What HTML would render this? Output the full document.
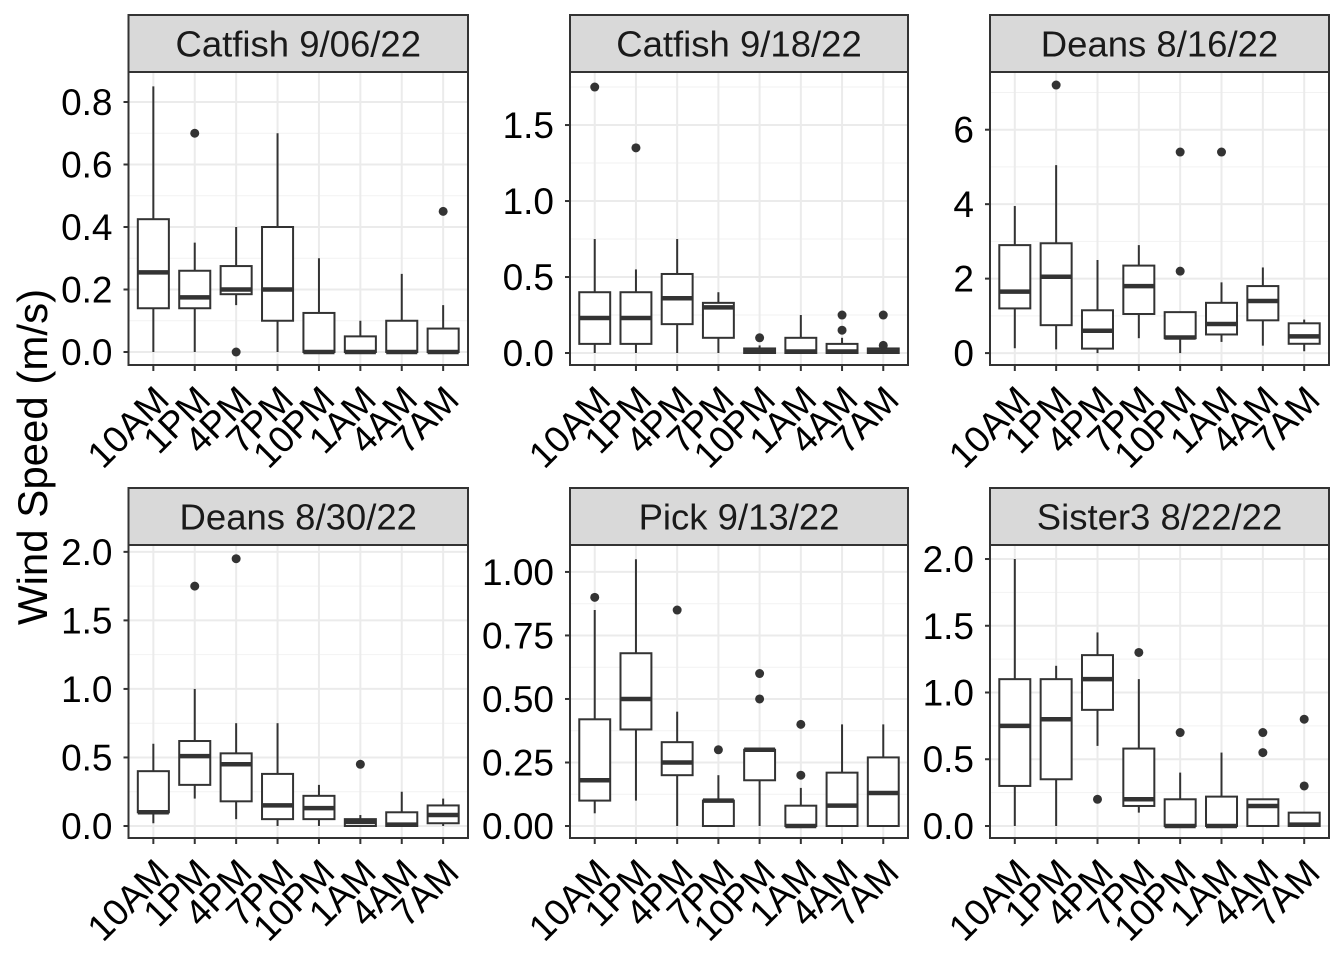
<!DOCTYPE html>
<html><head><meta charset="utf-8"><style>
html,body{margin:0;padding:0;background:#fff}
svg{display:block;font-family:"Liberation Sans",Arial,sans-serif}
</style></head><body>
<svg id="chart" width="1344" height="960" viewBox="0 0 1344 960" xmlns="http://www.w3.org/2000/svg">
<text x="0" y="0" transform="translate(47,457) rotate(-90)" text-anchor="middle" font-size="42" fill="#000">Wind Speed (m/s)</text>
</svg>
<script>
const categories = ["10AM","1PM","4PM","7PM","10PM","1AM","4AM","7AM"];
const panelTitles = ["Catfish 9/06/22","Catfish 9/18/22","Deans 8/16/22","Deans 8/30/22","Pick 9/13/22","Sister3 8/22/22"];
// each box: [lowWhisker, q1, median, q3, highWhisker]
const boxesCatfish0906 = [[0,0.14,0.255,0.425,0.85],[0,0.14,0.175,0.26,0.35],[0.15,0.185,0.2,0.275,0.40],[0,0.10,0.2,0.40,0.70],[0,0,0,0.125,0.30],[0,0,0,0.05,0.10],[0,0,0,0.10,0.25],[0,0,0,0.075,0.15]];
const outCatfish0906 = [[],[0.70],[0],[],[],[],[],[0.45]];
const boxesCatfish0918 = [[0,0.06,0.23,0.40,0.75],[0,0.06,0.23,0.40,0.55],[0,0.19,0.36,0.52,0.75],[0,0.10,0.30,0.33,0.40],[0,0,0.01,0.03,0.05],[0,0,0.01,0.10,0.25],[0,0,0.01,0.06,0.10],[0,0,0.01,0.03,0.05]];
const outCatfish0918 = [[1.75],[1.35],[],[],[0.10],[],[0.25,0.15],[0.25,0.05]];
const boxesDeans0816 = [[0.13,1.2,1.65,2.9,3.95],[0.1,0.75,2.05,2.95,5.05],[0,0.12,0.6,1.15,2.5],[0.4,1.05,1.8,2.35,2.9],[0,0.4,0.42,1.1,1.1],[0.3,0.5,0.78,1.35,1.9],[0.2,0.88,1.4,1.8,2.3],[0.05,0.25,0.45,0.8,0.9]];
const outDeans0816 = [[],[7.2],[],[],[5.4,2.2],[5.4],[],[]];
const boxesDeans0830 = [[0.02,0.1,0.1,0.4,0.6],[0.2,0.3,0.51,0.62,1.0],[0.05,0.18,0.45,0.53,0.75],[0,0.05,0.15,0.38,0.75],[0,0.05,0.13,0.22,0.3],[0,0,0.03,0.05,0.08],[0,0,0.01,0.1,0.25],[0,0.02,0.08,0.15,0.2]];
const outDeans0830 = [[],[1.75],[1.95],[],[],[0.45],[],[]];
const boxesPick0913 = [[0.05,0.1,0.18,0.42,0.85],[0.1,0.38,0.5,0.68,1.05],[0,0.2,0.25,0.33,0.45],[0,0,0.1,0.1,0.2],[0,0.18,0.3,0.3,0.3],[0,0,0,0.08,0.15],[0,0,0.08,0.21,0.4],[0,0,0.13,0.27,0.4]];
const outPick0913 = [[0.9],[],[0.85],[0.3],[0.6,0.5],[0.4,0.2],[],[]];
const boxesSister0822 = [[0,0.3,0.75,1.1,2.0],[0,0.35,0.8,1.1,1.2],[0.6,0.87,1.1,1.28,1.45],[0.1,0.15,0.2,0.58,1.1],[0,0,0,0.2,0.4],[0,0,0,0.22,0.55],[0,0,0.15,0.2,0.2],[0,0,0.01,0.1,0.1]];
const outSister0822 = [[],[],[0.2],[1.3],[0.7],[],[0.7,0.55],[0.8,0.3]];
const yTicks1 = [0,0.2,0.4,0.6,0.8];
const yTickLabels1 = ["0.0","0.2","0.4","0.6","0.8"];
const yTicks2 = [0,0.5,1.0,1.5];
const yTickLabels2 = ["0.0","0.5","1.0","1.5"];
const yTicks3 = [0,2,4,6];
const yTickLabels3 = ["0","2","4","6"];
const yTicks4 = [0,0.5,1.0,1.5,2.0];
const yTickLabels4 = ["0.0","0.5","1.0","1.5","2.0"];
const yTicks5 = [0,0.25,0.5,0.75,1.0];
const yTickLabels5 = ["0.00","0.25","0.50","0.75","1.00"];
const yTicks6 = [0,0.5,1.0,1.5,2.0];
const yTickLabels6 = ["0.0","0.5","1.0","1.5","2.0"];

const NS="http://www.w3.org/2000/svg";
const svg=document.getElementById('chart');
function mk(tag,attrs,parent){const e=document.createElementNS(NS,tag);for(const k in attrs)e.setAttribute(k,attrs[k]);(parent||svg).appendChild(e);return e;}

const panels=[
 {l:128.5,r:468,st:15,pt:72,pb:365,dom:[-0.0416,0.896],boxes:boxesCatfish0906,outs:outCatfish0906,ticks:yTicks1,labels:yTickLabels1},
 {l:570,r:908,st:15,pt:72,pb:365,dom:[-0.0789,1.849],boxes:boxesCatfish0918,outs:outCatfish0918,ticks:yTicks2,labels:yTickLabels2},
 {l:990,r:1329,st:15,pt:72,pb:365,dom:[-0.32,7.55],boxes:boxesDeans0816,outs:outDeans0816,ticks:yTicks3,labels:yTickLabels3},
 {l:128.5,r:468,st:488,pt:545,pb:838,dom:[-0.0876,2.05],boxes:boxesDeans0830,outs:outDeans0830,ticks:yTicks4,labels:yTickLabels4},
 {l:570,r:908,st:488,pt:545,pb:838,dom:[-0.0472,1.106],boxes:boxesPick0913,outs:outPick0913,ticks:yTicks5,labels:yTickLabels5},
 {l:990,r:1329,st:488,pt:545,pb:838,dom:[-0.09,2.105],boxes:boxesSister0822,outs:outSister0822,ticks:yTicks6,labels:yTickLabels6}
];

panels.forEach((p,pi)=>{
 const g=mk('g',{});
 
 
 const y=v=>p.pb-(v-p.dom[0])/(p.dom[1]-p.dom[0])*(p.pb-p.pt);
 const step=(p.r-p.l)/8.2;
 const x=i=>p.l+step*(i+0.6);
 mk('rect',{x:p.l,y:p.pt,width:p.r-p.l,height:p.pb-p.pt,fill:'#fff'},g);
 const d=p.ticks[1]-p.ticks[0];
 for(let v=p.ticks[0]-d/2; v<=p.dom[1]; v+=d){ if(v<p.dom[0])continue;
  const gl=mk('line',{x1:p.l,x2:p.r,y1:y(v),y2:y(v),stroke:'#f2f2f2','stroke-width':1},g);
  
  }
 p.ticks.forEach((v,i)=>{
  const gl=mk('line',{x1:p.l,x2:p.r,y1:y(v),y2:y(v),stroke:'#ebebeb','stroke-width':2},g);
  
  
  mk('line',{x1:p.l-5,x2:p.l,y1:y(v),y2:y(v),stroke:'#333','stroke-width':2},g);
  const t=mk('text',{x:p.l-16,y:y(v)+13,'text-anchor':'end','font-size':37,fill:'#000'},g);
  t.textContent=p.labels[i];
  
  
 });
 categories.forEach((c,i)=>{
  mk('line',{x1:x(i),x2:x(i),y1:p.pt,y2:p.pb,stroke:'#ebebeb','stroke-width':2},g);
  mk('line',{x1:x(i),x2:x(i),y1:p.pb,y2:p.pb+6,stroke:'#333','stroke-width':2},g);
  const t=mk('text',{x:0,y:0,transform:`translate(${x(i)-1},${p.pb+18}) rotate(-45)`,'text-anchor':'end',dy:'0.72em','font-size':37,fill:'#000'},g);
  t.textContent=c;
  
  
  const b=p.boxes[i]; const hw=step*0.375;
  const bg=mk('g',{},g);
  
  
  mk('line',{x1:x(i),x2:x(i),y1:y(b[0]),y2:y(b[1]),stroke:'#333','stroke-width':2},bg);
  mk('line',{x1:x(i),x2:x(i),y1:y(b[3]),y2:y(b[4]),stroke:'#333','stroke-width':2},bg);
  mk('rect',{x:x(i)-hw,y:y(b[3]),width:2*hw,height:Math.max(0,y(b[1])-y(b[3])),fill:'#fff',stroke:'#333','stroke-width':2},bg);
  mk('line',{x1:x(i)-hw,x2:x(i)+hw,y1:y(b[2]),y2:y(b[2]),stroke:'#333','stroke-width':4.5},bg);
  p.outs[i].forEach(o=>{
   const cpt=mk('circle',{cx:x(i),cy:y(o),r:4.5,fill:'#333'},bg);
   
   
  });
 });
 mk('rect',{x:p.l,y:p.pt,width:p.r-p.l,height:p.pb-p.pt,fill:'none',stroke:'#333','stroke-width':2},g);
 const s=mk('rect',{x:p.l,y:p.st,width:p.r-p.l,height:p.pt-p.st,fill:'#d9d9d9',stroke:'#333','stroke-width':2},g);
 
 
 const st=mk('text',{x:(p.l+p.r)/2,y:p.st+(p.pt-p.st)/2+13,'text-anchor':'middle','font-size':36.5,fill:'#1a1a1a'},g);
 st.textContent=panelTitles[pi];
 
 
});
</script>
</body></html>
